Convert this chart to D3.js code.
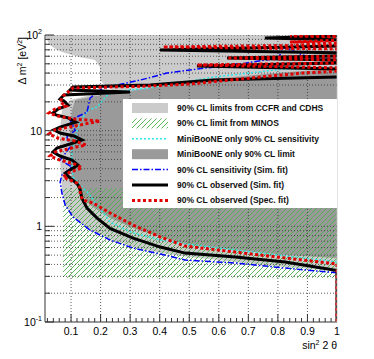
<!DOCTYPE html>
<html>
<head>
<meta charset="utf-8">
<script src="https://cdn.jsdelivr.net/npm/d3@7"></script>
<style>
  body { margin: 0; background: #fff; }
  svg { display: block; font-family: "Liberation Sans", Arial, sans-serif; }
</style>
</head>
<body>
<div id="chart"></div>
<script>
// ---- data (sin^2 2theta, delta m^2 in eV^2) ----
const ccfrX = [0.0118, 0.019, 0.029, 0.053, 0.080, 0.131, 0.181, 0.198, 0.198, 0.215, 0.242, 0.232, 0.164, 0.097, 0.069, 0.063, 0.063, 0.066, 0.069, 0.080, 0.107, 0.164, 0.232, 0.310, 0.402, 0.503, 0.656, 0.825, 1.0, 1.0]
const ccfrDm2 = [100, 88.5, 78.3, 69.5, 64.7, 58.7, 54.7, 46.2, 33.8, 29.9, 27.9, 25.3, 23.5, 20.9, 16.4, 10.1, 4.93, 3.44, 2.40, 1.67, 1.25, 0.937, 0.736, 0.608, 0.526, 0.478, 0.424, 0.376, 0.341, 100]

const minosX = [0.073, 1.0, 1.0, 0.073]
const minosDm2 = [0.29, 0.29, 2.5, 2.5]

const mbLimitX = [0.114, 0.198, 0.368, 0.581, 0.819, 1.0, 1.0, 0.825, 0.656, 0.486, 0.402, 0.310, 0.232, 0.164, 0.131, 0.103, 0.097, 0.097, 0.103]
const mbLimitDm2 = [20.9, 23.5, 27.9, 34.6, 40.9, 44.0, 0.467, 0.501, 0.566, 0.653, 0.773, 0.96, 1.22, 1.67, 2.28, 3.19, 4.93, 10.1, 16.4]

const mbSensX = [1.0, 0.825, 0.656, 0.486, 0.402, 0.310, 0.232, 0.158, 0.131, 0.107, 0.103, 0.103, 0.114, 0.124, 0.131, 0.141, 0.158, 0.188, 0.232, 0.368, 0.581, 0.819, 1.0]
const mbSensDm2 = [0.424, 0.49, 0.566, 0.653, 0.720, 0.851, 1.11, 2.23, 2.70, 3.27, 4.37, 6.27, 8.57, 10.9, 12.0, 13.9, 16.4, 17.7, 25.3, 27.9, 36.3, 44.0, 45.1]

const sensSimX = [1.0, 0.825, 0.656, 0.486, 0.402, 0.310, 0.232, 0.164, 0.107, 0.080, 0.069, 0.063, 0.069, 0.103, 0.063, 0.097, 0.086, 0.114, 0.097, 0.154, 0.164, 0.208, 0.334, 0.425, 0.554, 0.690, 0.802, 0.819, 0.910, 1.0]
const sensSimDm2 = [0.327, 0.366, 0.414, 0.444, 0.514, 0.593, 0.720, 0.916, 1.25, 1.67, 2.23, 2.90, 3.44, 4.17, 4.93, 6.74, 8.57, 10.1, 12.9, 15.6, 21.9, 27.9, 33.8, 40.0, 45.1, 50.8, 57.4, 74.8, 57.4, 54.7]

const obsSimX = [
    1.0, 1.0, 0.825, 0.656, 0.486, 0.402, 0.310, 0.232, 0.188, 0.154, 0.137, 0.131, 0.124, 0.114, 0.097, 0.080,
    0.0964, 0.1235, 0.1032, 0.0626, 0.0389, 0.0524, 0.0964, 0.137, 0.110, 0.0626, 0.0423, 0.0626, 0.1167, 0.0896, 0.049, 0.0389, 0.0558, 0.0896, 0.0761, 0.0626,
    0.0761, 0.2994, 0.0964, 0.1066, 0.367, 0.580, 1.02, 1.02, 0.526, 1.02, 1.02, 0.628, 1.02, 1.02, 0.401, 1.02, 1.02, 0.756, 1.02]
const obsSimDm2 = [
    0.1, 0.346, 0.424, 0.477, 0.525, 0.607, 0.752, 0.95, 1.22, 1.55, 1.96, 2.40, 2.70, 2.90, 3.19, 3.59,
    3.88, 4.38, 4.93, 5.43, 5.98, 6.59, 7.26, 7.98, 8.80, 9.46, 10.2, 10.9, 12.3, 13.6, 14.6, 15.3, 16.8, 18.5, 20.4, 21.4,
    23.6, 25.4, 26.6, 28.6, 30.0, 33.9, 36.4, 44.1, 47.4, 51.0, 54.8, 57.5, 60.3, 64.9, 69.7, 76.8, 88.7, 93.1, 97.7]

const obsSpecX = [
    1.0, 1.0, 0.825, 0.656, 0.486, 0.402, 0.310, 0.232, 0.175, 0.141, 0.131, 0.131, 0.120, 0.097, 0.073,
    0.0964, 0.137, 0.1133, 0.0626, 0.0287, 0.0456, 0.1032, 0.1505, 0.1133, 0.0558, 0.0253, 0.0456, 0.1133, 0.198, 0.1133, 0.0558, 0.0253, 0.0456, 0.0829, 0.0626,
    0.0727, 0.1066, 0.367, 0.502, 0.885, 1.02, 1.02, 0.526, 1.02, 1.02, 0.628, 1.02, 1.02, 0.411, 1.02, 1.02, 0.841, 1.02, 1.02, 0.841, 1.02]
const obsSpecDm2 = [
    0.1, 0.404, 0.467, 0.538, 0.622, 0.773, 1.03, 1.38, 1.75, 1.88, 2.12, 2.51, 2.83, 3.05, 3.27,
    3.70, 4.07, 4.48, 4.93, 5.43, 5.98, 6.59, 7.08, 7.80, 8.38, 9.23, 10.2, 11.2, 12.6, 13.2, 14.2, 15.3, 16.8, 18.1, 19.9,
    23.0, 27.9, 29.3, 30.8, 40.1, 42.1, 45.2, 48.6, 51.0, 54.8, 57.5, 60.3, 71.4, 75.0, 78.6, 82.4, 84.5, 88.7, 95.3, 97.7, 100]

const xTicks = [0.1, 0.2, 0.3, 0.4, 0.5, 0.6, 0.7, 0.8, 0.9, 1]
const xTickLabels = ["0.1", "0.2", "0.3", "0.4", "0.5", "0.6", "0.7", "0.8", "0.9", "1"]
const yTicks = [0.1, 1, 10, 100]

const legendLabels = [
    "90% CL limits from CCFR and CDHS",
    "90% CL limit from MINOS",
    "MiniBooNE only 90% CL sensitivity",
    "MiniBooNE only 90% CL limit",
    "90% CL sensitivity (Sim. fit)",
    "90% CL observed (Sim. fit)",
    "90% CL observed (Spec. fit)"
]

// ---- layout ----
const W = 374, H = 359
const pl = 45, pr = 337, pt = 35, pb = 322

const svg = d3.select("#chart").append("svg")
    .attr("width", W)
    .attr("height", H)

const x = d3.scaleLinear().domain([0.0118, 1]).range([pl, pr])
const y = d3.scaleLog().domain([0.1, 100]).range([pb, pt])

const defs = svg.append("defs")
defs.append("clipPath").attr("id", "plot-clip")
    .append("rect")
    .attr("x", pl).attr("y", pt)
    .attr("width", pr - pl).attr("height", pb - pt)

const hatch = defs.append("pattern")
    .attr("id", "hatch")
    .attr("patternUnits", "userSpaceOnUse")
    .attr("width", 5)
    .attr("height", 5)
hatch.append("path")
    .attr("d", "M-1,6 L6,-1 M-1,1 L1,-1 M4,6 L6,4")
    .attr("stroke", "#4cb04c")
    .attr("stroke-width", 0.9)

const zip = (xs, ys) => xs.map((v, i) => [v, ys[i]])
const line = d3.line().x(d => x(d[0])).y(d => y(d[1]))
const area = pts => line(pts) + "Z"

const plot = svg.append("g").attr("clip-path", "url(#plot-clip)")

// fills
plot.append("path").attr("d", area(zip(ccfrX, ccfrDm2))).attr("fill", "#cbcbcb")
plot.append("path").attr("d", area(zip(mbLimitX, mbLimitDm2))).attr("fill", "#9a9a9a")
plot.append("path").attr("d", area(zip(minosX, minosDm2))).attr("fill", "url(#hatch)")

// grid
const grid = plot.append("g")
    .attr("stroke", "#333")
    .attr("stroke-width", 0.8)
    .attr("stroke-dasharray", "1,2")
grid.selectAll(".vg").data(xTicks.slice(0, -1)).join("line")
    .attr("x1", d => x(d)).attr("x2", d => x(d))
    .attr("y1", pt).attr("y2", pb)
const yMinor = []
for (let e = -1; e < 2; e++) for (let k = 1; k < 10; k++) yMinor.push(k * 10 ** e)
yMinor.push(100)
grid.selectAll(".hg").data(yMinor.filter(v => v > 0.1)).join("line")
    .attr("x1", pl).attr("x2", pr)
    .attr("y1", d => y(d)).attr("y2", d => y(d))

// curves
const curve = (xs, ys, color, width, dash) => plot.append("path")
    .attr("d", line(zip(xs, ys)))
    .attr("fill", "none")
    .attr("stroke", color)
    .attr("stroke-width", width)
    .attr("stroke-dasharray", dash)
    .attr("stroke-linejoin", "miter")
    .attr("stroke-miterlimit", 10)

curve(mbSensX, mbSensDm2, "#2ee6e6", 1.5, "2,2")
curve(sensSimX, sensSimDm2, "#0000ff", 1.5, "6,2,1.5,2")
curve(obsSimX, obsSimDm2, "#000", 3, null)
curve(obsSpecX, obsSpecDm2, "#e00000", 3, "3,2.5")

// axes
const ax = svg.append("g").attr("stroke", "#777")
ax.append("line").attr("x1", pl).attr("x2", pl).attr("y1", pt).attr("y2", pb).attr("stroke-width", 1.5)
ax.append("line").attr("x1", pl).attr("x2", pr).attr("y1", pb).attr("y2", pb).attr("stroke-width", 1.5)
ax.append("line").attr("x1", pr).attr("x2", pr).attr("y1", pt).attr("y2", pb).attr("stroke", "#bbb").attr("stroke-width", 0.8)

const xMinor = d3.range(1, 50).map(i => i * 0.02).filter(v => v > 0.0118)
ax.selectAll(".xt").data(xMinor).join("line")
    .attr("x1", d => x(d)).attr("x2", d => x(d))
    .attr("y1", pb)
    .attr("y2", d => pb - (Math.abs(d * 10 - Math.round(d * 10)) < 1e-6 ? 8 : 4))
    .attr("stroke", "#333")
ax.selectAll(".yt").data(yMinor.filter(v => v >= 0.1)).join("line")
    .attr("y1", d => y(d)).attr("y2", d => y(d))
    .attr("x1", pl)
    .attr("x2", d => pl + (yTicks.includes(d) ? 9 : 5))
    .attr("stroke", "#333")

svg.selectAll(".xl").data(xTicks).join("text")
    .attr("x", d => x(d))
    .attr("y", 335)
    .attr("text-anchor", "middle")
    .attr("font-size", 10.5)
    .text((d, i) => xTickLabels[i])

const ylab = svg.selectAll(".yl").data(yTicks).join("text")
    .attr("x", 42)
    .attr("y", d => y(d) + 4)
    .attr("text-anchor", "end")
    .attr("font-size", 10.5)
ylab.each(function (d) {
    const t = d3.select(this)
    if (d === 1 || d === 10) { t.text(d); return }
    t.append("tspan").text("10")
    t.append("tspan").attr("dy", -5).attr("font-size", 7).text(d === 100 ? "2" : "-1")
})

const xt = svg.append("text").attr("x", pr).attr("y", 349).attr("text-anchor", "end").attr("font-size", 10.5)
xt.append("tspan").text("sin")
xt.append("tspan").attr("dy", -4).attr("font-size", 7).text("2")
xt.append("tspan").attr("dy", 4).text(" 2 θ")

const yt = svg.append("text")
    .attr("transform", "translate(26,37) rotate(-90)")
    .attr("text-anchor", "end")
    .attr("font-size", 10.5)
yt.append("tspan").text("Δ m")
yt.append("tspan").attr("dy", -4).attr("font-size", 7).text("2")
yt.append("tspan").attr("dy", 4).text(" [eV")
yt.append("tspan").attr("dy", -4).attr("font-size", 7).text("2")
yt.append("tspan").attr("dy", 4).text("]")

// legend
const lg = svg.append("g")
lg.append("rect").attr("x", 123).attr("y", 99).attr("width", 214).attr("height", 109).attr("fill", "#fff")
const rowY = i => 108 + i * 15.4
const sx0 = 132, sx1 = 168
lg.selectAll(".lt").data(legendLabels).join("text")
    .attr("x", 177)
    .attr("y", (d, i) => rowY(i) + 3)
    .attr("font-size", 8.5)
    .attr("font-weight", "bold")
    .attr("fill", "#111")
    .text(d => d)
const box = (i, fill) => lg.append("rect").attr("x", sx0).attr("y", rowY(i) - 5).attr("width", sx1 - sx0).attr("height", 10).attr("fill", fill)
box(0, "#cbcbcb")
box(1, "url(#hatch)")
box(3, "#9a9a9a")
const seg = (i, color, width, dash) => lg.append("line")
    .attr("x1", sx0).attr("x2", sx1).attr("y1", rowY(i)).attr("y2", rowY(i))
    .attr("stroke", color).attr("stroke-width", width).attr("stroke-dasharray", dash)
seg(2, "#2ee6e6", 1.5, "2,2")
seg(4, "#0000ff", 1.5, "6,2,1.5,2")
seg(5, "#000", 3, null)
seg(6, "#e00000", 3, "3,2.5")
</script>
</body>
</html>
